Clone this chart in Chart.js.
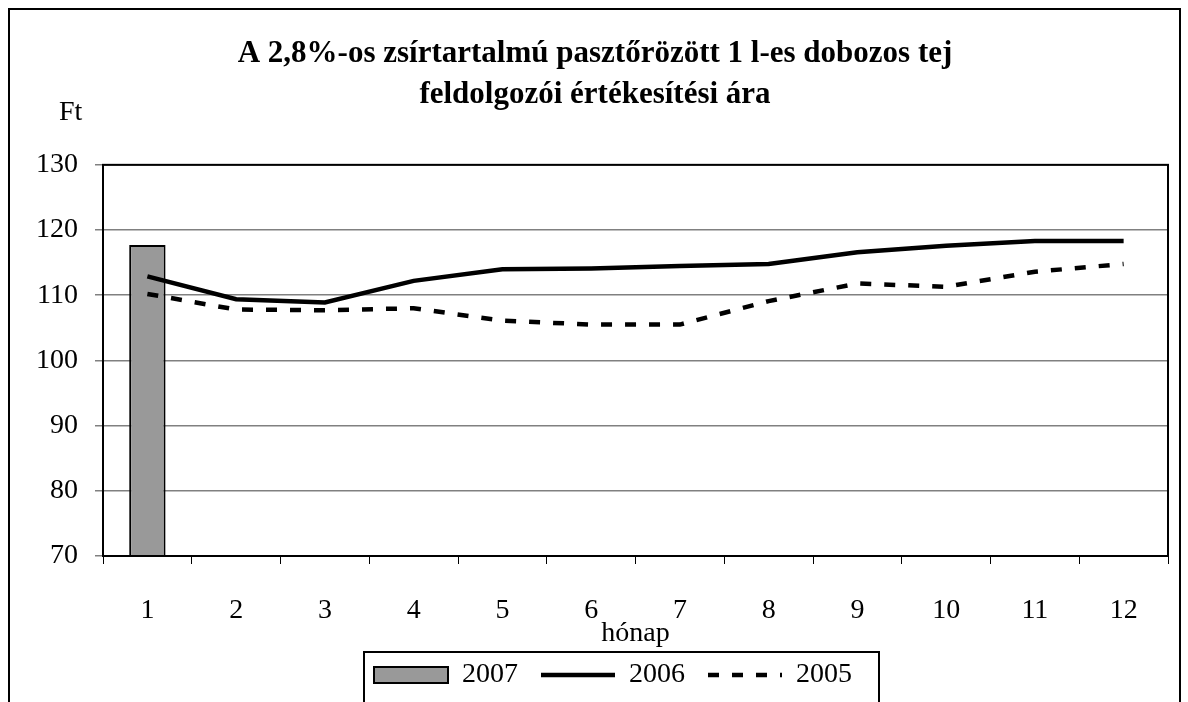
<!DOCTYPE html>
<html><head><meta charset="utf-8">
<script src="https://cdn.jsdelivr.net/npm/chart.js@4/dist/chart.umd.min.js"></script>
<style>
html,body{margin:0;padding:0;background:#fff;overflow:hidden;width:1188px;height:702px;}
#wrap{position:absolute;left:0;top:0;width:1188px;height:730px;}
</style></head>
<body><div id="wrap"><canvas id="c"></canvas></div>
<script>
const months = ['1','2','3','4','5','6','7','8','9','10','11','12'];
const series2007 = [117.7, null, null, null, null, null, null, null, null, null, null, null];
const series2006 = [112.9, 109.4, 108.9, 112.2, 114.0, 114.1, 114.5, 114.8, 116.6, 117.6, 118.3, 118.3];
const series2005 = [110.2, 107.8, 107.7, 108.0, 106.1, 105.5, 105.5, 109.1, 111.8, 111.3, 113.6, 114.8];
const yTicks = [70, 80, 90, 100, 110, 120, 130];
const titleLines = ['A 2,8%-os zsírtartalmú pasztőrözött 1 l-es dobozos tej', 'feldolgozói értékesítési ára'];

const FONT = "'Liberation Serif', 'Times New Roman', serif";

const decor = {
  id: 'decor',
  afterLayout(chart) {
    const lg = chart.legend;
    if (lg) { lg.left += 18; lg.right += 18; }
  },
  afterDraw(chart) {
    const ctx = chart.ctx, a = chart.chartArea;
    ctx.save();
    ctx.strokeStyle = '#000'; ctx.lineWidth = 2;
    ctx.beginPath();
    ctx.moveTo(9, 760); ctx.lineTo(9, 9); ctx.lineTo(1180, 9); ctx.lineTo(1180, 760);
    ctx.stroke();
    ctx.strokeRect(a.left, a.top, a.right - a.left, a.bottom - a.top);
    ctx.fillStyle = '#000';
    ctx.font = '28px ' + FONT;
    ctx.textAlign = 'left'; ctx.textBaseline = 'middle';
    ctx.fillText('Ft', 59, 113);
    const lg = chart.legend;
    if (lg && lg.legendHitBoxes && lg.legendHitBoxes.length) {
      let l = Infinity, r = -Infinity, t = Infinity;
      lg.legendHitBoxes.forEach(h => { l = Math.min(l, h.left); r = Math.max(r, h.left + h.width); t = Math.min(t, h.top); });
      ctx.strokeRect(l - 10, t - 9, (r - l) + 37, 90);
    }
    ctx.restore();
  }
};

new Chart(document.getElementById('c'), {
  type: 'bar',
  data: {
    labels: months,
    datasets: [
      { label: '2007', type: 'bar', data: series2007, backgroundColor: '#999999', borderColor: '#000', borderWidth: 2, barPercentage: 0.41, categoryPercentage: 1.0, order: 3 },
      { label: '2006', type: 'line', data: series2006, borderColor: '#000', borderWidth: 4.5, pointRadius: 0, tension: 0, fill: false, order: 1 },
      { label: '2005', type: 'line', data: series2005, borderColor: '#000', borderWidth: 4.5, borderDash: [11, 13], pointRadius: 0, tension: 0, fill: false, order: 2 }
    ]
  },
  options: {
    responsive: true, maintainAspectRatio: false, animation: false,
    layout: { padding: { left: 22, right: 20, top: 0, bottom: 31 } },
    plugins: {
      tooltip: { enabled: false },
      title: {
        display: true, text: titleLines, color: '#000',
        font: { family: FONT, size: 31, weight: 'bold', lineHeight: 1.32 },
        padding: { top: 33.5, bottom: 49.5 }
      },
      legend: {
        display: true, position: 'bottom',
        labels: {
          color: '#000', font: { family: FONT, size: 28 },
          usePointStyle: true, pointStyleWidth: 74, boxHeight: 16, padding: 23,
          generateLabels(chart) {
            return chart.data.datasets.map((ds, i) => ({
              text: ds.label,
              fillStyle: ds.type === 'bar' ? '#999999' : '#000',
              strokeStyle: '#000',
              lineWidth: ds.type === 'bar' ? 2 : 4.5,
              lineDash: ds.borderDash || [],
              pointStyle: ds.type === 'bar' ? 'rect' : 'line',
              datasetIndex: i, hidden: false, fontColor: '#000'
            }));
          }
        }
      }
    },
    scales: {
      x: {
        offset: true,
        grid: { offset: true, drawOnChartArea: false, color: '#000', lineWidth: 1, tickLength: 8 },
        border: { color: '#000', width: 2 },
        ticks: { color: '#000', font: { family: FONT, size: 28, lineHeight: 1.2 }, padding: 30, maxRotation: 0, autoSkip: false },
        title: { display: true, text: 'hónap', color: '#000', font: { family: FONT, size: 28, lineHeight: 1.0 }, padding: { top: -38, bottom: -9.6 } }
      },
      y: {
        min: 70, max: 130,
        afterBuildTicks(axis) { axis.ticks = yTicks.map(v => ({ value: v })); },
        afterFit(axis) { axis.width = 81; },
        grid: { color: '#808080', lineWidth: 1.5, tickLength: 8 },
        border: { color: '#000', width: 2 },
        ticks: { color: '#000', font: { family: FONT, size: 28 }, padding: 17 }
      }
    }
  },
  plugins: [decor]
});
</script></body></html>
